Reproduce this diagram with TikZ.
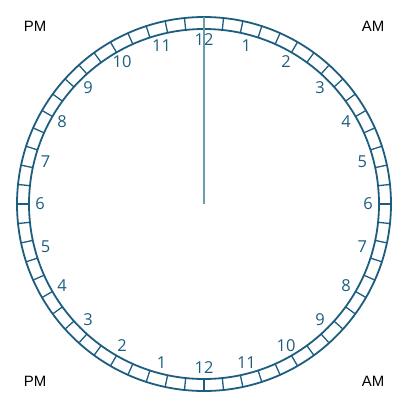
\documentclass[tikz,border=0pt]{standalone}
\usepackage{fontspec}
\setmainfont{Liberation Sans}
\newfontfamily\dialfont{Open Sans}
\usepackage{tikz}
\usetikzlibrary{positioning}
\definecolor{ringblue}{HTML}{1D5E80}
\definecolor{handblue}{HTML}{6A9DB0}

\begin{document}
\begin{tikzpicture}[x=1bp,y=-1bp,
  hour/.style={text=ringblue,font=\dialfont\fontsize{16.5}{16.5}\selectfont,inner sep=0pt},
  half/.style={font=\fontsize{15}{15}\selectfont,inner sep=0pt}]
\useasboundingbox (0,0) rectangle (407,404);
\coordinate (c) at (204,204);
% ring with ticks
\draw[ringblue,line width=1.8bp] (c) circle[radius=187] (c) circle[radius=175];
\foreach \t in {0,6,...,354}
  \draw[ringblue,line width=1.3bp] ([shift={(\t:175)}]c) -- ([shift={(\t:187)}]c);
% hours
\foreach \h in {1,...,11}{
  \node[hour] (am\h) at ([shift={(-90+15*\h:164)}]c) {\h};
  \node[hour] (pm\h) at ([shift={(90+15*\h:164)}]c) {\h};
}
\node[hour] (top12) at ([shift={(-90:164)}]c) {12};
\node[hour] (bot12) at ([shift={(90:164)}]c) {12};
% hand
\coordinate (tip) at ([shift={(-90:187)}]c);
\draw[handblue,line width=1.5bp] (c) -- (tip);
% corners
\node[half] (pmtop) at (35,26) {PM};
\node[half] (amtop) at (373,26) {AM};
\node[half] (pmbot) at (35,381) {PM};
\node[half] (ambot) at (373,381) {AM};
\end{tikzpicture}
\end{document}
